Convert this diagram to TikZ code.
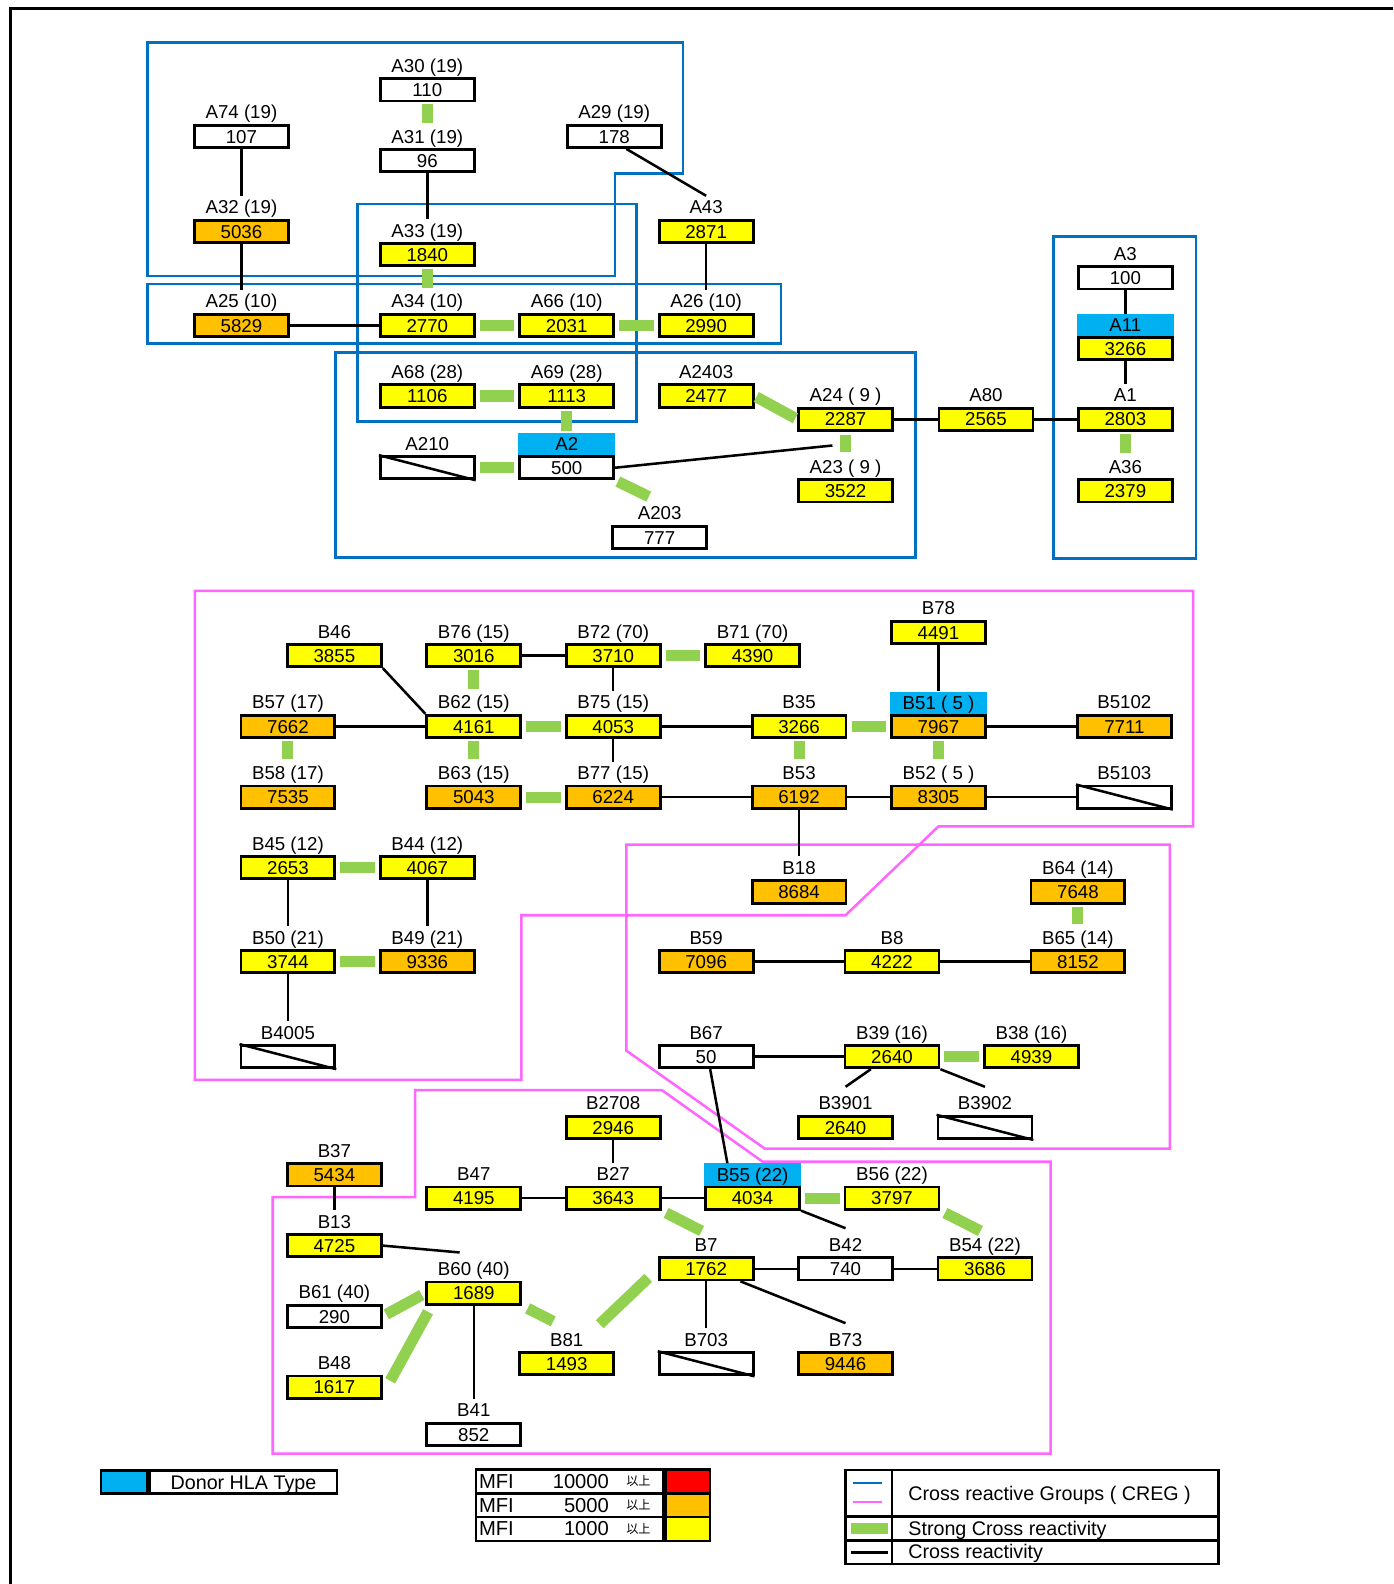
\documentclass[tikz,border=0pt]{standalone}
\usepackage{fontspec}
\setmainfont{Liberation Sans}
\newfontfamily\jpfont{Noto Sans CJK JP}
\definecolor{mfiyellow}{RGB}{255,255,0}
\definecolor{mfiorange}{RGB}{255,192,0}
\definecolor{mfired}{RGB}{255,0,0}
\definecolor{donorblue}{RGB}{0,176,240}
\definecolor{strongreen}{RGB}{146,208,80}
\definecolor{cregblue}{RGB}{0,112,192}
\definecolor{cregpink}{RGB}{255,102,255}

\begin{document}
\begin{tikzpicture}[x=1pt,y=-1pt,
  val/.style={draw,line width=2.8pt,minimum width=93pt,minimum height=22pt,
    inner sep=0pt,text height=13.3pt,text depth=0pt},
  lbl/.style={inner sep=0pt,minimum height=22pt,text height=13.3pt,text depth=0pt},
  donor/.style={lbl,fill=donorblue,minimum width=95.8pt},
  cr/.style={line width=2.5pt},
  scr/.style={line width=11pt,draw=strongreen,shorten >=#1,shorten <=#1},
  scr/.default=4pt,
  cregA/.style={line width=2.5pt,draw=cregblue},
  cregB/.style={line width=2.5pt,draw=cregpink},
  keytext/.style={inner sep=0pt,font=\fontsize{19.5}{20}\selectfont,
    text height=14pt,text depth=0pt}]
  \fontsize{18.5}{20}\selectfont % affects text nodes in this picture
  \newcommand{\hla}[5]{\node[val,fill=#5] (#1) at (#2) {#4};
    \node[lbl] (#1l) at ([yshift=24pt]#1.center) {#3};}
  \newcommand{\donorhla}[5]{\node[val,fill=#5] (#1) at (#2) {#4};
    \node[donor] (#1l) at ([yshift=23.4pt]#1.center) {#3};}
  \newcommand{\nohla}[3]{\node[val,fill=white] (#1) at (#2) {};
    \node[lbl] (#1l) at ([yshift=24pt]#1.center) {#3};
    \draw[cr] (#1.north west) -- (#1.south east);}
  \useasboundingbox (0,0) rectangle (1379,1568);
  % frame
  \draw[line width=3pt] (1379,8) -- (10,8) -- (10,1568);
  % CREG, A locus
  \draw[cregA] (146,42) -- (676,42) -- (676,172) -- (609,172) -- (609,273)
  -- (146,273) -- cycle;
  \draw[cregA] (354,202) rectangle (630,417);
  \draw[cregA] (146,281) rectangle (773,340);
  \draw[cregA] (332,349) rectangle (906,552);
  \draw[cregA] (1043,234) rectangle (1184,553);
  % CREG, B locus
  \draw[cregB] (193,585) -- (1181,585) -- (1181,818) -- (929,818) -- (837,906)
  -- (516,906) -- (516,1069) -- (193,1069) -- cycle;
  \draw[cregB] (620,836) -- (1158,836) -- (1158,1137) -- (757,1137)
  -- (620,1040) -- cycle;
  \draw[cregB] (270,1185) -- (411,1185) -- (411,1079) -- (655,1079)
  -- (755,1150) -- (1040,1150) -- (1040,1439) -- (270,1439) -- cycle;
  % A locus
  \hla{A30}{423,89}{A30 (19)}{110}{white}
  \hla{A74}{239,135}{A74 (19)}{107}{white}
  \hla{A31}{423,159}{A31 (19)}{96}{white}
  \hla{A29}{608,135}{A29 (19)}{178}{white}
  \hla{A32}{239,229}{A32 (19)}{5036}{mfiorange}
  \hla{A33}{423,252}{A33 (19)}{1840}{mfiyellow}
  \hla{A43}{699,229}{A43}{2871}{mfiyellow}
  \hla{A25}{239,322}{A25 (10)}{5829}{mfiorange}
  \hla{A34}{423,322}{A34 (10)}{2770}{mfiyellow}
  \hla{A66}{561,322}{A66 (10)}{2031}{mfiyellow}
  \hla{A26}{699,322}{A26 (10)}{2990}{mfiyellow}
  \hla{A68}{423,392}{A68 (28)}{1106}{mfiyellow}
  \hla{A69}{561,392}{A69 (28)}{1113}{mfiyellow}
  \hla{A2403}{699,392}{A2403}{2477}{mfiyellow}
  \hla{A24}{837,415}{A24 ( 9 )}{2287}{mfiyellow}
  \hla{A80}{976,415}{A80}{2565}{mfiyellow}
  \hla{A1}{1114,415}{A1}{2803}{mfiyellow}
  \nohla{A210}{423,463}{A210}
  \donorhla{A2}{561,463}{A2}{500}{white}
  \hla{A23}{837,486}{A23 ( 9 )}{3522}{mfiyellow}
  \hla{A203}{653,532}{A203}{777}{white}
  \hla{A3}{1114,275}{A3}{100}{white}
  \donorhla{A11}{1114,345}{A11}{3266}{mfiyellow}
  \hla{A36}{1114,486}{A36}{2379}{mfiyellow}
  \coordinate (A2end) at (824,441);
  % cross reactivity, A
  \draw[cr] (A74) -- (A32l);
  \draw[cr] (A32) -- (A25l);
  \draw[cr] (A31) -- (A33l);
  \draw[cr] ([xshift=12pt]A29.south) -- (A43l.north);
  \draw[cr] (A43) -- (A26l);
  \draw[cr] (A25) -- (A34);
  \draw[cr] (A2.east) -- (A2end);
  \draw[cr] (A24) -- (A80);
  \draw[cr] (A80) -- (A1);
  \draw[cr] (A3) -- (A11l);
  \draw[cr] (A11) -- (A1l);
  % strong cross reactivity, A
  \draw[scr=2pt] (A30) -- (A31l);
  \draw[scr=2pt] (A33) -- (A34l);
  \draw[scr] (A34) -- (A66);
  \draw[scr] (A66) -- (A26);
  \draw[scr] (A68) -- (A69);
  \draw[scr=2pt] (A69) -- (A2l);
  \draw[scr=2pt] (A2403.east) -- (A24.west);
  \draw[scr=3pt] (A24) -- (A23l);
  \draw[scr] (A210) -- (A2);
  \draw[scr,shorten <=3pt,shorten >=12pt] (A2.south east) -- (A203l.north);
  \draw[scr=2pt] (A1) -- (A36l);
  % B locus
  \hla{B46}{331,649}{B46}{3855}{mfiyellow}
  \hla{B76}{469,649}{B76 (15)}{3016}{mfiyellow}
  \hla{B72}{607,649}{B72 (70)}{3710}{mfiyellow}
  \hla{B71}{745,649}{B71 (70)}{4390}{mfiyellow}
  \hla{B78}{929,626}{B78}{4491}{mfiyellow}
  \hla{B57}{285,719}{B57 (17)}{7662}{mfiorange}
  \hla{B62}{469,719}{B62 (15)}{4161}{mfiyellow}
  \hla{B75}{607,719}{B75 (15)}{4053}{mfiyellow}
  \hla{B35}{791,719}{B35}{3266}{mfiyellow}
  \donorhla{B51}{929,719}{B51 ( 5 )}{7967}{mfiorange}
  \hla{B5102}{1113,719}{B5102}{7711}{mfiorange}
  \hla{B58}{285,789}{B58 (17)}{7535}{mfiorange}
  \hla{B63}{469,789}{B63 (15)}{5043}{mfiorange}
  \hla{B77}{607,789}{B77 (15)}{6224}{mfiorange}
  \hla{B53}{791,789}{B53}{6192}{mfiorange}
  \hla{B52}{929,789}{B52 ( 5 )}{8305}{mfiorange}
  \nohla{B5103}{1113,789}{B5103}
  \hla{B45}{285,859}{B45 (12)}{2653}{mfiyellow}
  \hla{B44}{423,859}{B44 (12)}{4067}{mfiyellow}
  \hla{B18}{791,883}{B18}{8684}{mfiorange}
  \hla{B64}{1067,883}{B64 (14)}{7648}{mfiorange}
  \hla{B50}{285,952}{B50 (21)}{3744}{mfiyellow}
  \hla{B49}{423,952}{B49 (21)}{9336}{mfiorange}
  \hla{B59}{699,952}{B59}{7096}{mfiorange}
  \hla{B8}{883,952}{B8}{4222}{mfiyellow}
  \hla{B65}{1067,952}{B65 (14)}{8152}{mfiorange}
  \nohla{B4005}{285,1046}{B4005}
  \hla{B67}{699,1046}{B67}{50}{white}
  \hla{B39}{883,1046}{B39 (16)}{2640}{mfiyellow}
  \hla{B38}{1021,1046}{B38 (16)}{4939}{mfiyellow}
  \hla{B3901}{837,1116}{B3901}{2640}{mfiyellow}
  \nohla{B3902}{975,1116}{B3902}
  \hla{B2708}{607,1116}{B2708}{2946}{mfiyellow}
  \hla{B37}{331,1163}{B37}{5434}{mfiorange}
  \hla{B47}{469,1186}{B47}{4195}{mfiyellow}
  \hla{B27}{607,1186}{B27}{3643}{mfiyellow}
  \donorhla{B55}{745,1186}{B55 (22)}{4034}{mfiyellow}
  \hla{B56}{883,1186}{B56 (22)}{3797}{mfiyellow}
  \hla{B13}{331,1233}{B13}{4725}{mfiyellow}
  \hla{B7}{699,1256}{B7}{1762}{mfiyellow}
  \hla{B42}{837,1256}{B42}{740}{white}
  \hla{B54}{975,1256}{B54 (22)}{3686}{mfiyellow}
  \hla{B60}{469,1280}{B60 (40)}{1689}{mfiyellow}
  \hla{B61}{331,1303}{B61 (40)}{290}{white}
  \hla{B81}{561,1350}{B81}{1493}{mfiyellow}
  \nohla{B703}{699,1350}{B703}
  \hla{B73}{837,1350}{B73}{9446}{mfiorange}
  \hla{B48}{331,1373}{B48}{1617}{mfiyellow}
  \hla{B41}{469,1420}{B41}{852}{white}
  % cross reactivity, B
  \draw[cr] (B46.south east) -- (B62.north west);
  \draw[cr] (B76) -- (B72);
  \draw[cr] (B72) -- (B75l);
  \draw[cr] (B57) -- (B62);
  \draw[cr] (B75) -- (B35);
  \draw[cr] (B75) -- (B77l);
  \draw[cr] (B77) -- (B53);
  \draw[cr] (B53) -- (B52);
  \draw[cr] (B52) -- (B5103);
  \draw[cr] (B51) -- (B5102);
  \draw[cr] (B78) -- (B51l);
  \draw[cr] (B53) -- (B18l);
  \draw[cr] (B45) -- (B50l);
  \draw[cr] (B44) -- (B49l);
  \draw[cr] (B50) -- (B4005l);
  \draw[cr] (B59) -- (B8);
  \draw[cr] (B8) -- (B65);
  \draw[cr] (B67) -- (B39);
  \draw[cr] ([xshift=-21pt]B39.south) -- ([yshift=5pt]B3901l.north);
  \draw[cr] (B39.south east) -- ([yshift=5pt]B3902l.north);
  \draw[cr] ([xshift=4pt]B67.south) -- ([xshift=-25pt]B55l.north);
  \draw[cr] (B2708) -- (B27l);
  \draw[cr] (B47) -- (B27);
  \draw[cr] (B27) -- (B55);
  \draw[cr] (B37) -- (B13l);
  \draw[cr] (B13.east) -- ([xshift=-14pt,yshift=5pt]B60l.north);
  \draw[cr] (B55.south east) -- ([yshift=5pt]B42l.north);
  \draw[cr] (B7) -- (B42);
  \draw[cr] (B42) -- (B54);
  \draw[cr] (B7) -- (B703l);
  \draw[cr] ([xshift=34pt]B7.south) -- ([yshift=5pt]B73l.north);
  \draw[cr] (B60) -- (B41l);
  % strong cross reactivity, B
  \draw[scr] (B72) -- (B71);
  \draw[scr=2pt] (B76) -- (B62l);
  \draw[scr] (B62) -- (B75);
  \draw[scr=2pt] (B62) -- (B63l);
  \draw[scr=2pt] (B57) -- (B58l);
  \draw[scr] (B35) -- (B51);
  \draw[scr=2pt] (B35) -- (B53l);
  \draw[scr=2pt] (B51) -- (B52l);
  \draw[scr] (B63) -- (B77);
  \draw[scr] (B45) -- (B44);
  \draw[scr] (B50) -- (B49);
  \draw[scr=2pt] (B64) -- (B65l);
  \draw[scr] (B39) -- (B38);
  \draw[scr] (B55) -- (B56);
  \draw[scr=5pt] (B56.south east) -- (B54l.north);
  \draw[scr=5pt] (B27.south east) -- (B7l.north);
  \draw[scr] (B60.west) -- (B61.east);
  \draw[scr=7pt] ([xshift=6pt]B60.south west) -- ([xshift=4pt]B48.east);
  \draw[scr,shorten <=6pt,shorten >=15pt] (B60.south east) -- (B81l.north);
  \draw[scr,shorten <=22pt,shorten >=13pt] (B81l.east) -- (B7.west);
  % legend: donor type
  \node[draw,line width=2.5pt,fill=donorblue,minimum width=46pt,
    minimum height=23pt,inner sep=0pt] (keydonor) at (123,1467) {};
  \node[draw,line width=2.5pt,minimum width=185pt,minimum height=23pt,
    anchor=west,keytext] (keydonortext) at (keydonor.east) {Donor HLA Type};
  % legend: MFI
  \foreach \row/\ymid/\mfi/\col in {1/1466.5/10000/mfired,
    2/1490/5000/mfiorange,3/1513.5/1000/mfiyellow}{
    \node[draw,line width=2.5pt,minimum width=185pt,minimum height=23.5pt,
      inner sep=0pt,anchor=west] (mfirow\row) at (470,\ymid) {};
    \node[draw,line width=2.5pt,fill=\col,minimum width=44pt,
      minimum height=23.5pt,inner sep=0pt,anchor=west] (mficol\row)
      at (mfirow\row.east) {};
    \node[anchor=west,inner sep=0pt,font=\fontsize{20}{20}\selectfont]
      (mfiname\row) at (474,\ymid) {MFI};
    \node[anchor=east,inner sep=0pt,font=\fontsize{20}{20}\selectfont]
      (mfinum\row) at (603,\ymid) {\mfi};
    \node[inner sep=0pt] (mfiover\row) at (632,\ymid)
      {\jpfont\fontsize{12}{12}\selectfont 以上};
  }
  % legend: lines
  \draw[line width=2.5pt] (837,1455) rectangle (1206,1548);
  \draw[line width=2.5pt] (883,1455) -- (883,1548);
  \draw[line width=2.5pt] (837,1501) -- (1206,1501);
  \draw[line width=2.5pt] (837,1525) -- (1206,1525);
  \draw[cregA] (844,1468) -- (873,1468);
  \draw[cregB] (844,1487) -- (873,1487);
  \draw[line width=11pt,strongreen] (842,1513) -- (879,1513);
  \draw[cr] (842,1537) -- (879,1537);
  \node[keytext,anchor=west] (keycreg) at (899,1478)
    {Cross reactive Groups ( CREG )};
  \node[keytext,anchor=west] (keystrong) at (899,1513) {Strong Cross reactivity};
  \node[keytext,anchor=west] (keycross) at (899,1536) {Cross reactivity};
\end{tikzpicture}
\end{document}
